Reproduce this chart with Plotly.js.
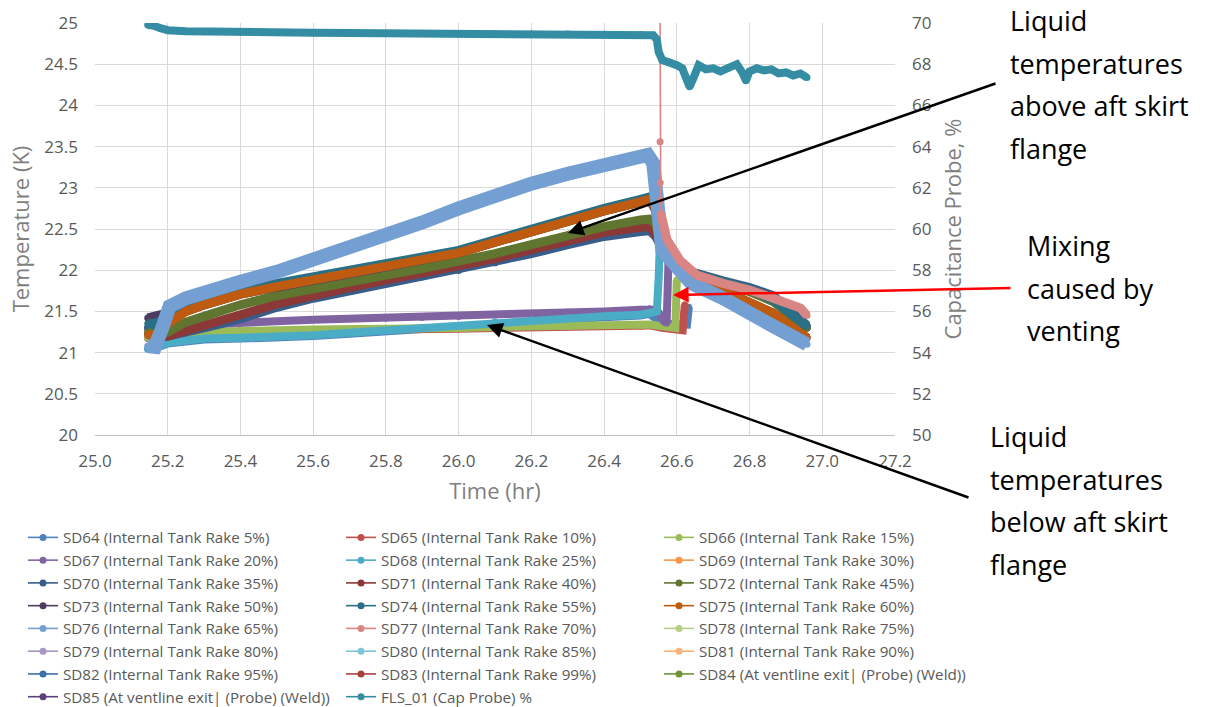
<!DOCTYPE html>
<html>
<head>
<meta charset="utf-8">
<script src="https://cdn.plot.ly/plotly-3.0.1.min.js"></script>
<style>html,body{margin:0;padding:0;background:#fff;}#chart{width:1221px;height:707px;}</style>
</head>
<body>
<div id="chart"></div>
<script>
// ---------------- DATA ----------------
// common time grid before the vent (hr)
const timePre = [25.145,25.17,25.2,25.25,25.3,25.4,25.5,25.6,25.7,25.8,25.9,26.0,26.1,26.2,26.3,26.4,26.5,26.525];
// common time grid after the vent for the upper group (hr)
const timePostA = [26.54,26.55,26.56,26.58,26.6,26.65,26.727,26.8,26.865,26.958];

// lower group (below aft skirt flange) - temperatures in K
const sd64Time = timePre.concat([26.56,26.62,26.628,26.633]);
const sd64Temp = [21.04,21.06,21.11,21.14,21.16,21.17,21.18,21.2,21.23,21.26,21.29,21.32,21.36,21.39,21.41,21.43,21.45,21.47, 21.35,21.33,21.34,21.55];
const sd65Time = timePre.concat([26.56,26.6,26.616,26.622]);
const sd65Temp = [21.17,21.19,21.21,21.23,21.24,21.26,21.26,21.27,21.27,21.28,21.29,21.29,21.3,21.31,21.31,21.32,21.32,21.33, 21.3,21.28,21.27,21.58];
const sd66Time = timePre.concat([26.56,26.596,26.6]);
const sd66Temp = [21.18,21.2,21.22,21.24,21.25,21.27,21.27,21.28,21.28,21.29,21.3,21.3,21.31,21.32,21.32,21.33,21.33,21.34, 21.32,21.3,21.88];
const sd67Time = timePre.concat([26.545,26.565,26.572,26.577]);
const sd67Temp = [21.3,21.3,21.3,21.32,21.34,21.37,21.38,21.4,21.41,21.42,21.43,21.44,21.46,21.47,21.49,21.5,21.52,21.53, 21.52,21.38,21.36,22.09];
const sd68Time = timePre.concat([26.535,26.545,26.55,26.553]);
const sd68Temp = [21.05,21.07,21.12,21.15,21.17,21.18,21.19,21.21,21.24,21.27,21.3,21.33,21.37,21.4,21.42,21.44,21.46,21.48, 21.49,21.5,21.9,22.28];

// upper group (above aft skirt flange)
const sd69Time = timePre.concat(timePostA);
const sd69Temp = [21.22,21.2,21.35,21.5,21.58,21.71,21.8,21.88,21.96,22.04,22.12,22.21,22.34,22.47,22.6,22.72,22.83,22.86, 22.76,22.57,22.4,22.2,22.08,21.9,21.74,21.61,21.48,21.18];
const sd70Time = timePre.concat(timePostA);
const sd70Temp = [21.3,21.24,21.2,21.24,21.3,21.41,21.55,21.66,21.75,21.84,21.92,22.0,22.09,22.2,22.31,22.41,22.47,22.48, 22.42,22.34,22.25,22.12,22.03,21.96,21.87,21.79,21.69,21.33];
const sd71Time = timePre.concat(timePostA);
const sd71Temp = [21.22,21.18,21.2,21.27,21.33,21.46,21.59,21.7,21.79,21.88,21.96,22.04,22.14,22.25,22.36,22.46,22.52,22.53, 22.45,22.35,22.24,22.1,22.02,21.94,21.85,21.76,21.65,21.3];
const sd72Time = timePre.concat(timePostA);
const sd72Temp = [21.25,21.22,21.25,21.37,21.44,21.58,21.69,21.78,21.86,21.94,22.02,22.1,22.2,22.31,22.42,22.53,22.61,22.62, 22.58,22.45,22.3,22.14,22.05,21.93,21.84,21.74,21.62,21.3];
const sd73Time = timePre.concat(timePostA);
const sd73Temp = [21.42,21.45,21.48,21.5,21.58,21.71,21.8,21.88,21.96,22.04,22.12,22.21,22.34,22.47,22.6,22.72,22.83,22.86, 22.74,22.55,22.38,22.18,22.06,21.9,21.74,21.61,21.48,21.18];
const sd74Time = timePre.concat(timePostA);
const sd74Temp = [21.35,21.36,21.45,21.56,21.63,21.75,21.84,21.92,22.0,22.07,22.15,22.24,22.37,22.5,22.63,22.75,22.86,22.89, 22.8,22.6,22.42,22.22,22.1,21.96,21.86,21.77,21.64,21.32];
const sd75Time = timePre.concat(timePostA);
const sd75Temp = [21.22,21.2,21.35,21.5,21.58,21.71,21.8,21.88,21.96,22.04,22.12,22.21,22.34,22.47,22.6,22.72,22.83,22.86, 22.76,22.57,22.4,22.2,22.08,21.9,21.74,21.61,21.48,21.18];
const sd76Time = [25.145,25.165,25.185,25.205,25.25,25.3,25.4,25.5,25.6,25.7,25.8,25.9,26.0,26.1,26.2,26.3,26.4,26.5,26.52,26.535,26.542,26.548,26.56,26.59,26.64,26.727,26.8,26.865,26.958];
const sd76Temp = [21.08,21.07,21.3,21.56,21.66,21.74,21.86,21.98,22.12,22.27,22.41,22.58,22.75,22.91,23.05,23.17,23.28,23.37,23.4,23.3,23.0,22.4,22.25,22.09,21.84,21.66,21.5,21.32,21.1];
// SD77 comes down from above the 25 K limit during the vent
const sd77Time = [26.553,26.554,26.5543,26.5546,26.556,26.573,26.609,26.655,26.727,26.8,26.865,26.94,26.958];
const sd77Temp = [26.0,23.56,23.06,22.85,22.69,22.37,22.12,21.94,21.84,21.76,21.66,21.54,21.45];
const sd77SpikePoints = 4;

// series that are not visible on their own (hidden beneath the others)
const sd78Temp = [21.18,21.2,21.22,21.24,21.25,21.27,21.27,21.28,21.28,21.29,21.3,21.3,21.31,21.32,21.32,21.33,21.33,21.34, 21.32,21.3,21.86];
const sd79Temp = [21.3,21.3,21.3,21.32,21.34,21.37,21.38,21.4,21.41,21.42,21.43,21.44,21.46,21.47,21.49,21.5,21.52,21.53, 21.52,21.38,21.36,22.07];
const sd80Temp = [21.05,21.07,21.12,21.15,21.17,21.18,21.19,21.21,21.24,21.27,21.3,21.33,21.37,21.4,21.42,21.44,21.46,21.48, 21.49,21.5,21.9,22.26];
const sd81Temp = [21.22,21.2,21.35,21.5,21.58,21.71,21.8,21.88,21.96,22.04,22.12,22.21,22.34,22.47,22.6,22.72,22.83,22.86, 22.76,22.57,22.4,22.2,22.08,21.9,21.74,21.61,21.48,21.18];
const sd82Temp = [21.3,21.24,21.2,21.24,21.3,21.41,21.55,21.66,21.75,21.84,21.92,22.0,22.09,22.2,22.31,22.41,22.47,22.48, 22.42,22.34,22.25,22.12,22.03,21.96,21.87,21.79,21.69,21.33];
const sd83Temp = [21.22,21.18,21.2,21.27,21.33,21.46,21.59,21.7,21.79,21.88,21.96,22.04,22.14,22.25,22.36,22.46,22.52,22.53, 22.45,22.35,22.24,22.1,22.02,21.94,21.85,21.76,21.65,21.3];
const sd84Temp = [21.25,21.22,21.25,21.37,21.44,21.58,21.69,21.78,21.86,21.94,22.02,22.1,22.2,22.31,22.42,22.53,22.61,22.62, 22.58,22.45,22.3,22.14,22.05,21.93,21.84,21.74,21.62,21.3];
const sd85Temp = [21.22,21.2,21.35,21.5,21.58,21.71,21.8,21.88,21.96,22.04,22.12,22.21,22.34,22.47,22.6,22.72,22.83,22.86, 22.74,22.55,22.38,22.18,22.06,21.9,21.74,21.61,21.48,21.18];

// capacitance probe (%)
const flsTime = [25.145,25.16,25.18,25.2,25.25,25.3,25.4,25.5,25.6,25.7,25.8,25.9,26.0,26.1,26.2,26.3,26.4,26.5,26.535,26.545,26.55,26.56,26.58,26.6,26.615,26.625,26.635,26.645,26.66,26.68,26.7,26.72,26.74,26.765,26.78,26.79,26.8,26.82,26.84,26.86,26.88,26.9,26.92,26.94,26.958];
const flsCap  = [69.9,69.88,69.75,69.65,69.6,69.58,69.55,69.54,69.53,69.52,69.5,69.5,69.49,69.48,69.47,69.46,69.45,69.44,69.4,69.2,68.6,68.2,68.1,67.95,67.8,67.4,66.9,67.3,67.95,67.75,67.8,67.65,67.8,68.0,67.6,67.2,67.65,67.8,67.7,67.75,67.55,67.6,67.45,67.55,67.35];

const seriesNames = [
  'SD64 (Internal Tank Rake 5%)','SD65 (Internal Tank Rake 10%)','SD66 (Internal Tank Rake 15%)',
  'SD67 (Internal Tank Rake 20%)','SD68 (Internal Tank Rake 25%)','SD69 (Internal Tank Rake 30%)',
  'SD70 (Internal Tank Rake 35%)','SD71 (Internal Tank Rake 40%)','SD72 (Internal Tank Rake 45%)',
  'SD73 (Internal Tank Rake 50%)','SD74 (Internal Tank Rake 55%)','SD75 (Internal Tank Rake 60%)',
  'SD76 (Internal Tank Rake 65%)','SD77 (Internal Tank Rake 70%)','SD78 (Internal Tank Rake 75%)',
  'SD79 (Internal Tank Rake 80%)','SD80 (Internal Tank Rake 85%)','SD81 (Internal Tank Rake 90%)',
  'SD82 (Internal Tank Rake 95%)','SD83 (Internal Tank Rake 99%)','SD84 (At ventline exit| (Probe) (Weld))',
  'SD85 (At ventline exit| (Probe) (Weld))'
];
const flsName = 'FLS_01 (Cap Probe) %';
const seriesTime = [sd64Time,sd65Time,sd66Time,sd67Time,sd68Time,sd69Time,sd70Time,sd71Time,sd72Time,sd73Time,sd74Time,sd75Time,sd76Time,sd77Time,
  sd66Time,sd67Time,sd68Time,sd75Time,sd70Time,sd71Time,sd72Time,sd73Time];
const seriesTemp = [sd64Temp,sd65Temp,sd66Temp,sd67Temp,sd68Temp,sd69Temp,sd70Temp,sd71Temp,sd72Temp,sd73Temp,sd74Temp,sd75Temp,sd76Temp,sd77Temp,
  sd78Temp,sd79Temp,sd80Temp,sd81Temp,sd82Temp,sd83Temp,sd84Temp,sd85Temp];

// ---------------- STYLE ----------------
const seriesColors = ['#4F81BD','#C0504D','#9BBB59','#8064A2','#4BACC6','#F79646',
  '#385D8A','#8C3836','#5F7530','#4E3B62','#2A7085','#BE5B10',
  '#749FD2','#D98584','#B3CF85','#A896C4','#7FC6DB','#F9B27A',
  '#3C6DAE','#A8403E','#6E9436','#5B3F7E'];
const flsColor = '#348DA3';
const bandWidths = [8,8,8,8,8,9,9,9,9,9,9,9,14,9,0,0,0,0,0,0,0,0];
const drawOrder = [14,15,16,17,18,19,20,21,0,1,2,3,4,5,6,7,8,9,10,11,12,13];

const W = 1221, H = 707;
const M = {l: 95, r: 326, t: 23, b: 272};
const pw = W - M.l - M.r, ph = H - M.t - M.b;
const pxX = p => (p - M.l) / pw;
const pxY = p => (H - M.b - p) / ph;

const traces = [];
drawOrder.forEach(i => {
  const name = seriesNames[i], t = seriesTime[i], k = seriesTemp[i], c = seriesColors[i];
  traces.push({type:'scatter', mode:'lines+markers', name:name, x:t, y:k, legendrank:i + 1,
    line:{color:c, width:1.6}, marker:{color:c, size:7}, hoverinfo:'skip'});
  if (bandWidths[i] > 0) {
    const s = (i === 13) ? sd77SpikePoints : 0;
    traces.push({type:'scatter', mode:'lines', x:t.slice(s), y:k.slice(s), showlegend:false,
      line:{color:c, width:bandWidths[i]}, hoverinfo:'skip'});
  }
});
traces.push({type:'scatter', mode:'lines+markers', name:flsName, x:flsTime, y:flsCap, yaxis:'y2', legendrank:23,
  line:{color:flsColor, width:1.6}, marker:{color:flsColor, size:7}, hoverinfo:'skip'});
traces.push({type:'scatter', mode:'lines', x:flsTime, y:flsCap, yaxis:'y2', showlegend:false,
  line:{color:flsColor, width:8}, hoverinfo:'skip'});

const tickFont = {family:'Open Sans', size:17, color:'#595959'};
const titleFont = {family:'Open Sans', size:22, color:'#7f7f7f'};
const noteOuter = {family:'Open Sans', size:32.7, color:'#000'};
const spanned = lines => lines.map(s => '<span style="font-size:27px">' + s + '</span>').join('<br>');

const annotations = [
  {xref:'paper', yref:'paper', x:pxX(1008), y:pxY(84), xanchor:'left', yanchor:'middle', align:'left', showarrow:false,
   text: spanned(['Liquid','temperatures','above aft skirt','flange']), font: noteOuter},
  {xref:'paper', yref:'paper', x:pxX(1025), y:pxY(288), xanchor:'left', yanchor:'middle', align:'left', showarrow:false,
   text: spanned(['Mixing','caused by','venting']), font: noteOuter},
  {xref:'paper', yref:'paper', x:pxX(988), y:pxY(500), xanchor:'left', yanchor:'middle', align:'left', showarrow:false,
   text: spanned(['Liquid','temperatures','below aft skirt','flange']), font: noteOuter},
  {xref:'paper', yref:'paper', x:pxX(568), y:pxY(233), ax:429, ay:-150, text:'', showarrow:true,
   arrowhead:2, arrowsize:1.25, arrowwidth:2.5, arrowcolor:'#000', standoff:0},
  {xref:'paper', yref:'paper', x:pxX(673), y:pxY(295), ax:339, ay:-7, text:'', showarrow:true,
   arrowhead:2, arrowsize:1.25, arrowwidth:2.5, arrowcolor:'#ff0000', standoff:0},
  {xref:'paper', yref:'paper', x:pxX(487), y:pxY(325), ax:483, ay:173, text:'', showarrow:true,
   arrowhead:2, arrowsize:1.25, arrowwidth:2.5, arrowcolor:'#000', standoff:0}
];

const layout = {
  width: W, height: H,
  margin: {l:M.l, r:M.r, t:M.t, b:M.b, autoexpand:false},
  paper_bgcolor:'#fff', plot_bgcolor:'#fff',
  font: {family:'Open Sans', color:'#595959'},
  showlegend: true,
  xaxis: {range:[25,27.2], tick0:25, dtick:0.2, tickformat:'.1f', showgrid:true, gridcolor:'#d9d9d9', gridwidth:1,
    zeroline:false, showline:true, linecolor:'#bfbfbf', linewidth:1, ticks:'', ticklabelstandoff:11,
    tickfont:tickFont, title:{text:'Time (hr)', font:titleFont, standoff:12}, fixedrange:true},
  yaxis: {range:[20,25], tick0:20, dtick:0.5, showgrid:true, gridcolor:'#d9d9d9', gridwidth:1, zeroline:false,
    showline:false, ticks:'', ticklabelstandoff:16, tickfont:tickFont,
    title:{text:'Temperature (K)', font:titleFont, standoff:8}, fixedrange:true},
  yaxis2: {range:[50,70], tick0:50, dtick:2, overlaying:'y', side:'right', showgrid:false, zeroline:false,
    showline:false, ticks:'', ticklabelstandoff:16, tickfont:tickFont,
    title:{text:'Capacitance Probe, %', font:titleFont, standoff:14}, fixedrange:true},
  legend: {orientation:'h', traceorder:'normal', x:pxX(977), xanchor:'right', y:pxY(521), yanchor:'top',
    entrywidth:273, entrywidthmode:'pixels', font:{family:'Open Sans', size:15.2, color:'#595959'},
    bgcolor:'rgba(0,0,0,0)', borderwidth:0},
  annotations: annotations
};

Plotly.newPlot('chart', traces, layout, {displayModeBar:false, staticPlot:true});
</script>
</body>
</html>
